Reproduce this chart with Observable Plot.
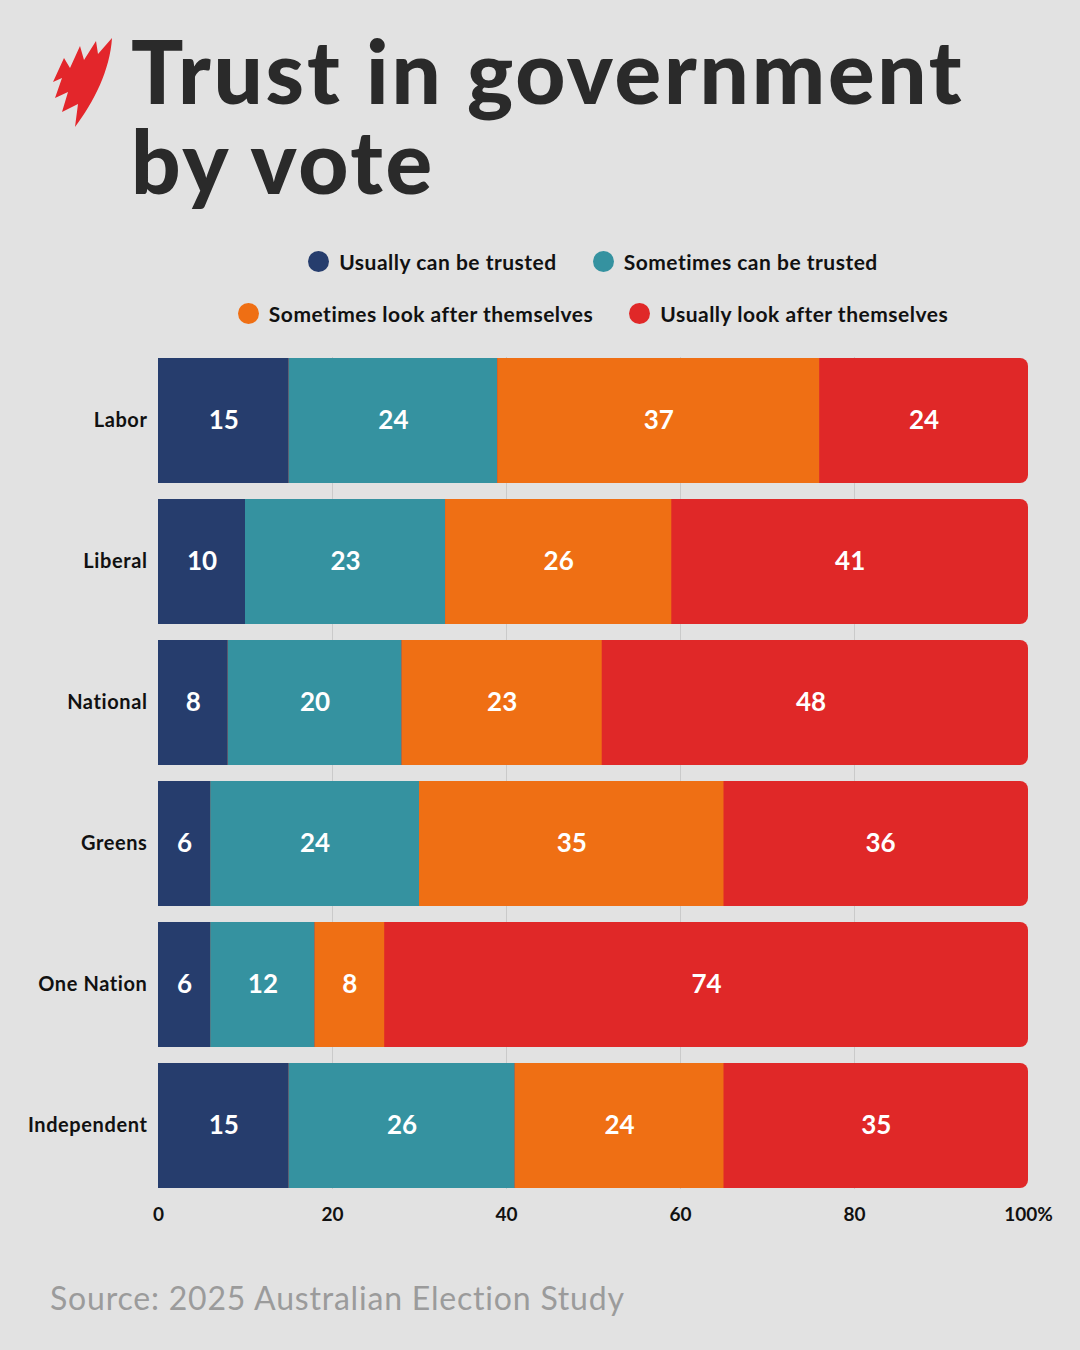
<!DOCTYPE html>
<html><head><meta charset="utf-8">
<script src="https://cdn.jsdelivr.net/npm/d3@7"></script>
<script src="https://cdn.jsdelivr.net/npm/@observablehq/plot@0.6"></script>
<style>
html,body{margin:0;padding:0;background:#e2e2e2;}
#page{position:relative;width:1080px;height:1350px;background:#e2e2e2;overflow:hidden;font-family:Lato,"Open Sans",sans-serif;}
#logo{position:absolute;left:50px;top:36px;}
.tline{position:absolute;left:131px;margin:0;font-family:Lato,sans-serif;font-weight:900;font-size:87px;line-height:78px;height:78px;color:#2a2a2a;letter-spacing:2.8px;white-space:nowrap;}
#t1{top:32px;}
#t2{top:122px;}
#legend{position:absolute;left:158px;width:870px;top:249px;}
.lrow{display:flex;justify-content:center;gap:36px;height:52px;align-items:flex-start;}
.item{display:flex;align-items:center;font-weight:700;font-size:21px;letter-spacing:0.5px;color:#111;}
.dot{width:21px;height:21px;border-radius:50%;margin-right:10px;display:inline-block;}
#chart{position:absolute;left:0;top:340px;}
#source{position:absolute;left:50px;top:1278px;font-size:32px;letter-spacing:0.8px;color:#9b9b9b;font-weight:400;}
</style></head>
<body><div id="page">
<svg id="logo" width="66" height="94" viewBox="50 36 66 94"><path fill="#e3262b" d="M112,38 C110,70 94,102 75,127 L78,104 L62,112 L68,92 L55,98 L62,78 L53,82 L64,58 L70,68 L80,46 L84,60 L96,41 L98,54 Z"/></svg>
<div class="tline" id="t1">Trust in government</div>
<div class="tline" id="t2">by vote</div>
<div id="legend"></div>
<div id="chart"></div>
<div id="source">Source: 2025 Australian Election Study</div>
</div>
<script>
const parties = ["Labor","Liberal","National","Greens","One Nation","Independent"];
const series = ["Usually can be trusted","Sometimes can be trusted","Sometimes look after themselves","Usually look after themselves"];
const usuallyTrusted   = [15,10,8,6,6,15];
const sometimesTrusted = [24,23,20,24,12,26];
const sometimesSelf    = [37,26,23,35,8,24];
const usuallySelf      = [24,41,48,36,74,35];
const colors = ["#263d6d","#3592a0","#ef6f14","#e02828"];
const xTicks = [0,20,40,60,80,100];
const legendRows = [[0,1],[2,3]];

const seriesValues = [usuallyTrusted, sometimesTrusted, sometimesSelf, usuallySelf];
const rows = parties.flatMap((p,i)=>series.map((s,j)=>({party:p, series:s, value:seriesValues[j][i]})));
const total = d3.max(xTicks);

const legend = document.getElementById("legend");
legendRows.forEach(r=>{
  const row = document.createElement("div"); row.className="lrow";
  r.forEach(j=>{
    const it=document.createElement("div"); it.className="item";
    it.innerHTML=`<span class="dot" style="background:${colors[j]}"></span>${series[j]}`;
    row.appendChild(it);
  });
  legend.appendChild(row);
});

const chart = Plot.plot({
  width:1080, height:909,
  marginLeft:158, marginRight:52, marginTop:17, marginBottom:60,
  style:{background:"transparent", fontFamily:"Lato, sans-serif", color:"#111"},
  x:{domain:d3.extent(xTicks), axis:null},
  y:{domain:parties, paddingInner:0.112, paddingOuter:0, axis:null},
  color:{domain:series, range:colors},
  marks:[
    Plot.gridX(xTicks.filter(t=>t>0 && t<total), {stroke:"#cacaca", strokeOpacity:1, strokeWidth:1}),
    Plot.barX(parties, {x1:()=>0, x2:()=>total, y:d=>d, fill:colors[3], rx:8}),
    Plot.barX(rows.filter(d=>d.series!==series[3]), Plot.stackX({x:"value", y:"party", fill:"series", z:"series"})),
    Plot.text(rows, Plot.stackX({x:"value", y:"party", z:"series", text:d=>String(d.value), fill:"white", fontSize:26, fontWeight:700})),
    Plot.axisY({tickSize:0, tickPadding:11, fontSize:20, fontWeight:700, label:null, style:{letterSpacing:"0.6px"}}),
    Plot.axisX(xTicks, {tickSize:0, tickPadding:18, fontSize:19, fontWeight:700, label:null, tickFormat:d=>d===total?"100%":String(d)})
  ]
});
chart.querySelectorAll('g[aria-label="y-axis tick label"] text').forEach(t=>t.style.letterSpacing="0.6px");
document.getElementById("chart").appendChild(chart);
</script>
</body></html>
